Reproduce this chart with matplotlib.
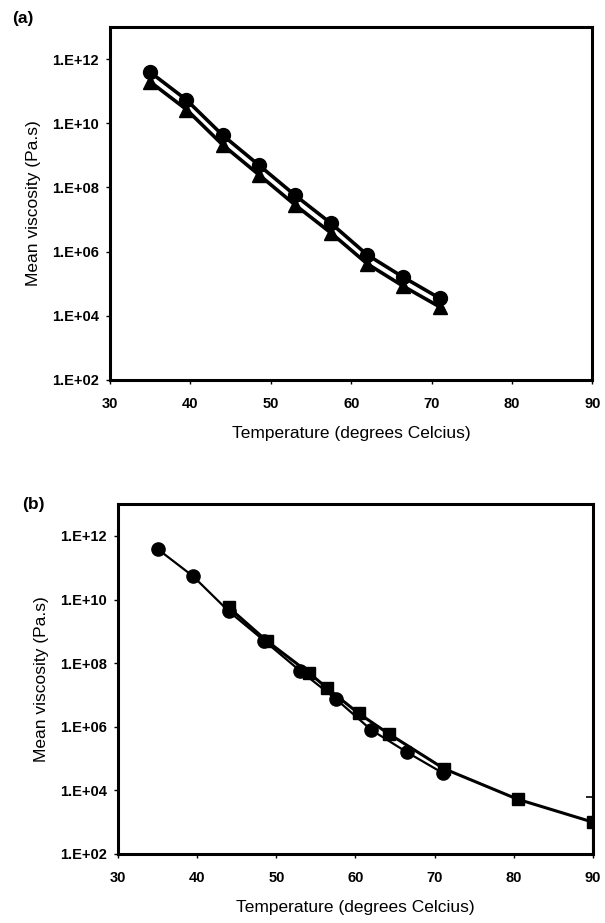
import numpy as np
import matplotlib.pyplot as plt
from matplotlib.ticker import FixedLocator, FuncFormatter, NullLocator

plt.rcParams['font.family'] = ['Liberation Sans', 'DejaVu Sans']

# panel (a): two viscosity series
temp_a = [35, 39.5, 44, 48.5, 53, 57.5, 62, 66.5, 71]
log_visc_circle = [11.59, 10.73, 9.63, 8.70, 7.76, 6.88, 5.90, 5.20, 4.55]
log_visc_triangle = [11.29, 10.43, 9.33, 8.40, 7.46, 6.58, 5.62, 4.92, 4.28]

# panel (b): circles again plus the square series
temp_b_circle = temp_a
log_b_circle = log_visc_circle
temp_b_square = [44, 48.8, 54.1, 56.4, 60.4, 64.2, 71.2, 80.5, 90]
log_b_square = [9.75, 8.70, 7.70, 7.22, 6.42, 5.78, 4.68, 3.72, 3.00]
# error bar on last square
err_upper_log = 3.78
err_lower_log = 2.0

xticks = [30, 40, 50, 60, 70, 80, 90]
yticks = [1e2, 1e4, 1e6, 1e8, 1e10, 1e12]


def style_axes(ax):
    ax.set_yscale('log')
    ax.set_xlim(30, 90)
    ax.set_ylim(1e2, 1e13)
    ax.xaxis.set_major_locator(FixedLocator(xticks))
    ax.yaxis.set_major_locator(FixedLocator(yticks))
    ax.yaxis.set_minor_locator(NullLocator())
    ax.yaxis.set_major_formatter(FuncFormatter(lambda v, p: '1.E+%02d' % round(np.log10(v))))
    ax.tick_params(direction='out', length=3, width=1, labelsize=10.5)
    ax.tick_params(axis='x', pad=9)
    ax.tick_params(axis='y', pad=5)
    for lab in ax.get_xticklabels() + ax.get_yticklabels():
        lab.set_fontweight('bold')
    for s in ax.spines.values():
        s.set_linewidth(2.2)
    ax.set_xlabel('Temperature (degrees Celcius)', fontsize=12.5, labelpad=11)
    ax.set_ylabel('Mean viscosity (Pa.s)', fontsize=12.5, labelpad=8)


fig = plt.figure(figsize=(6.05, 9.23), dpi=100)

ax1 = fig.add_axes([0.182, 0.5883, 0.797, 0.3824])
ax1.plot(temp_a, 10 ** np.array(log_visc_circle), color='black', lw=2.6,
         marker='o', markersize=10)
ax1.plot(temp_a, 10 ** np.array(log_visc_triangle), color='black', lw=2.6,
         marker='^', markersize=10)
style_axes(ax1)

ax2 = fig.add_axes([0.195, 0.0748, 0.785, 0.379])
ax2.plot(temp_b_circle, 10 ** np.array(log_b_circle), color='black', lw=1.6,
         marker='o', markersize=9.5)
ax2.plot(temp_b_square, 10 ** np.array(log_b_square), color='black', lw=2.2,
         marker='s', markersize=9)
ax2.errorbar([temp_b_square[-1]], [10 ** log_b_square[-1]],
             yerr=[[10 ** log_b_square[-1] - 10 ** err_lower_log],
                   [10 ** err_upper_log - 10 ** log_b_square[-1]]],
             fmt='none', ecolor='black', elinewidth=1.5, capsize=5, capthick=1.2)
style_axes(ax2)

fig.text(0.02, 0.98, '(a)', fontsize=12.5, fontweight='bold', va='center')
fig.text(0.037, 0.453, '(b)', fontsize=12.5, fontweight='bold', va='center')

fig.savefig('out.png', dpi=100)
